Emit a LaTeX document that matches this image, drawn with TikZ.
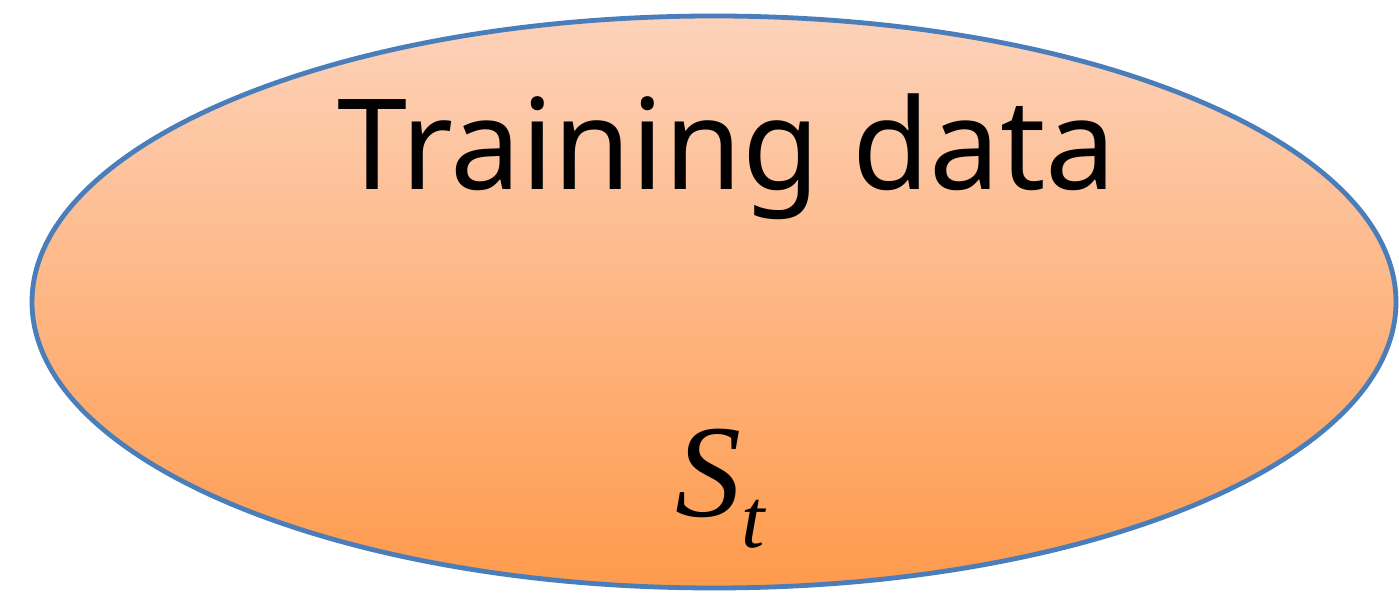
\documentclass[tikz,border=0pt]{standalone}
\usepackage{fontspec}
\setmainfont{Noto Sans}
\newfontfamily\timesfont{Liberation Serif}
\usetikzlibrary{shapes.geometric}
\definecolor{peachtop}{HTML}{FDD2BA}
\definecolor{orangebot}{HTML}{FE9A4C}
\definecolor{rimblue}{HTML}{4A7EBB}

\begin{document}
\begin{tikzpicture}[x=0.5pt, y=0.5pt,
    dataset/.style={ellipse, draw=rimblue, line width=2.4pt, top color=peachtop, bottom color=orangebot, minimum width=682pt, minimum height=286pt, inner sep=0pt},
    lbl/.style={inner sep=0pt, anchor=base}
]
\useasboundingbox (0,0) rectangle (1399,593);
\node[dataset] (data) at (714,291) {};
\node[lbl, font=\fontsize{63}{70}\selectfont] (title) at (727,403) {Training data};
\node[lbl, font=\timesfont\itshape\fontsize{66}{72}\selectfont] (sym) at (720,76) {S\raisebox{-15.5pt}{\fontsize{42}{46}\selectfont t}};
\end{tikzpicture}
\end{document}
